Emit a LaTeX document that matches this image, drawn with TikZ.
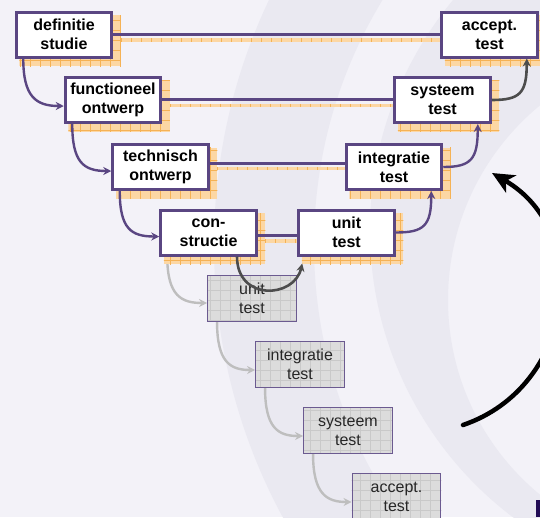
\documentclass[tikz,border=0pt]{standalone}
\usepackage{fontspec}
\setmainfont{Liberation Sans}
\usetikzlibrary{arrows.meta,calc}
\pgfdeclarelayer{bglayer}
\pgfdeclarelayer{underlayer}
\pgfdeclarelayer{shadowlayer}
\pgfsetlayers{bglayer,underlayer,shadowlayer,main}
\definecolor{bgbase}{HTML}{F3F2F8}
\definecolor{bgband}{HTML}{EAE9F1}
\definecolor{vpurple}{HTML}{5A4682}
\definecolor{shfill}{HTML}{FCD7A4}
\definecolor{shgrid}{HTML}{F5B255}
\definecolor{gfill}{HTML}{DCDCDC}
\definecolor{ggrid}{HTML}{C9C9C9}
\definecolor{gborder}{HTML}{6B5A90}
\definecolor{garrowc}{HTML}{BEBEBE}
\definecolor{darrowc}{HTML}{4D4D4D}
\definecolor{cornerc}{HTML}{220C55}
\tikzset{
  vbox/.style={draw=vpurple, line width=3pt, fill=white,
    font=\fontsize{16}{19}\selectfont\bfseries, align=center,
    minimum width=95.5pt, minimum height=45pt, inner sep=0pt},
  gbox/.style={draw=gborder, line width=1.4pt, text=black!85,
    font=\fontsize{16}{19}\selectfont, align=center,
    minimum width=88.5pt, minimum height=45.5pt, inner sep=0pt},
  vline/.style={draw=vpurple, line width=3pt},
  shline/.style={draw=shfill, line width=3.5pt},
  shtick/.style={draw=shgrid, line width=3.5pt, dash pattern=on 0.7pt off 9.3pt},
  parrow/.style={draw=vpurple, line width=2.4pt, -{Stealth[length=8pt,width=8pt]}},
  darrow/.style={draw=darrowc, line width=2.6pt, -{Stealth[length=8pt,width=8pt]}},
  garrow/.style={draw=garrowc, line width=2.4pt, -{Stealth[length=8pt,width=8pt]}},
  bigarc/.style={draw=black, line width=4.5pt, line cap=round,
    -{Stealth[length=22pt,width=20pt,inset=6pt]}}
}
\newcommand\vshad[1]{%
  \begin{scope}
    \clip ([shift={(4.5pt,-7.5pt)}]#1.south west) rectangle ([shift={(7.5pt,-4.5pt)}]#1.north east);
    \fill[shfill] ([shift={(4.5pt,-7.5pt)}]#1.south west) rectangle ([shift={(7.5pt,-4.5pt)}]#1.north east);
    \draw[shgrid, line width=0.45pt, xstep=10pt, ystep=10pt] ([shift={(-10pt,-20pt)}]#1.south west) grid ([shift={(20pt,20pt)}]#1.north east);
  \end{scope}}
\newcommand\gfillbox[1]{%
  \begin{scope}
    \clip (#1.south west) rectangle (#1.north east);
    \fill[gfill] (#1.south west) rectangle (#1.north east);
    \draw[ggrid, line width=0.6pt, step=10pt] ([shift={(-10pt,-10pt)}]#1.south west) grid ([shift={(10pt,10pt)}]#1.north east);
  \end{scope}}
\begin{document}
\begin{tikzpicture}[x=1pt,y=-1pt]
\useasboundingbox (0,0) rectangle (540,517);
\begin{pgfonlayer}{bglayer}
  \fill[bgbase] (0,0) rectangle (540,517);
  \begin{scope}
    \clip (0,0) rectangle (540,517);
    \fill[bgband, even odd rule] (786,245) circle[radius=572] (786,245) circle[radius=472];
    \fill[bgband, even odd rule] (730,230) circle[radius=360] (700,300) circle[radius=252];
  \end{scope}
  \fill[cornerc] (535.5,500) rectangle (540,517);
\end{pgfonlayer}

% main boxes
\node[vbox] (def) at (64,34.5) {definitie\\studie};
\node[vbox] (acc) at (489.5,34.5) {accept.\\test};
\node[vbox] (fun) at (113,100) {functioneel\\ontwerp};
\node[vbox] (sys) at (442.5,100) {systeem\\test};
\node[vbox] (tec) at (160.5,167) {technisch\\ontwerp};
\node[vbox] (int) at (394,167) {integratie\\test};
\node[vbox] (con) at (208.5,232.5) {con-\\structie};
\node[vbox] (uni) at (346.5,232.5) {unit\\test};

% grey boxes
\node[gbox] (gu) at (252,298.5) {unit\\test};
\node[gbox] (gi) at (300,364.5) {integratie\\test};
\node[gbox] (gs) at (348,430.5) {systeem\\test};
\node[gbox] (ga) at (396.5,496.5) {accept.\\test};

\begin{pgfonlayer}{shadowlayer}
  \vshad{def}\vshad{acc}\vshad{fun}\vshad{sys}
  \vshad{tec}\vshad{int}\vshad{con}\vshad{uni}
  \gfillbox{gu}\gfillbox{gi}\gfillbox{gs}\gfillbox{ga}
  \draw[shline] ([shift={(7.5pt,-5.5pt)}]def.east) -- ([yshift=-5.5pt]acc.west);
  \draw[shtick] ([shift={(7.5pt,-5.5pt)}]def.east) -- ([yshift=-5.5pt]acc.west);
  \draw[shline] ([shift={(7.5pt,-5.5pt)}]fun.east) -- ([yshift=-5.5pt]sys.west);
  \draw[shtick] ([shift={(7.5pt,-5.5pt)}]fun.east) -- ([yshift=-5.5pt]sys.west);
  \draw[shline] ([shift={(7.5pt,-1.5pt)}]tec.east) -- ([yshift=-1.5pt]int.west);
  \draw[shtick] ([shift={(7.5pt,-1.5pt)}]tec.east) -- ([yshift=-1.5pt]int.west);
  \draw[shline] ([shift={(7.5pt,-8.5pt)}]con.east) -- ([yshift=-8.5pt]uni.west);
  \draw[shtick] ([shift={(7.5pt,-8.5pt)}]con.east) -- ([yshift=-8.5pt]uni.west);
\end{pgfonlayer}

\begin{pgfonlayer}{underlayer}
  \draw[garrow] ([xshift=8pt]con.south west) .. controls +(0,40) and +(-25,0) .. ([yshift=-4.5pt]gu.west);
  \draw[garrow] ([xshift=10pt]gu.south west) .. controls +(0,40) and +(-25,0) .. ([yshift=-5.5pt]gi.west);
  \draw[garrow] ([xshift=10pt]gi.south west) .. controls +(0,40) and +(-25,0) .. ([yshift=-5.5pt]gs.west);
  \draw[garrow] ([xshift=10pt]gs.south west) .. controls +(0,40) and +(-25,0) .. ([yshift=-5.5pt]ga.west);
\end{pgfonlayer}

% horizontal connectors
\draw[vline] (def.east) -- (acc.west);
\draw[vline] ([yshift=1pt]fun.east) -- ([yshift=1pt]sys.west);
\draw[vline] ([yshift=4pt]tec.east) -- ([yshift=4pt]int.west);
\draw[vline] ([yshift=-3pt]con.east) -- ([yshift=-3pt]uni.west);

% left descending arrows
\draw[parrow] ([xshift=8.5pt]def.south west) .. controls +(0,38) and +(-28,0) .. ([yshift=-6pt]fun.west);
\draw[parrow] ([xshift=8.5pt]fun.south west) .. controls +(0,38) and +(-28,0) .. ([yshift=-4pt]tec.west);
\draw[parrow] ([xshift=8.5pt]tec.south west) .. controls +(0,38) and +(-28,0) .. ([yshift=-4pt]con.west);

% right ascending arrows
\draw[parrow] (uni.east) .. controls +(28,0) and +(0,35) .. ([xshift=-12pt]int.south east);
\draw[parrow] (int.east) .. controls +(28,0) and +(0,35) .. ([xshift=-14pt]sys.south east);
\draw[darrow] (sys.east) .. controls +(28,0) and +(0,35) .. ([xshift=-12pt]acc.south east);

% construction to unit test
\draw[darrow] ([xshift=28.5pt]con.south) .. controls +(0,45) and +(-8,35) .. ([shift={(5pt,-7pt)}]uni.south west);

% big cycle arrow
\coordinate (cycS) at (463,425);
\coordinate (cycE) at (492,173);
\draw[bigarc] (cycS) .. controls (575,387) and (594,232) .. (cycE);
\end{tikzpicture}
\end{document}
